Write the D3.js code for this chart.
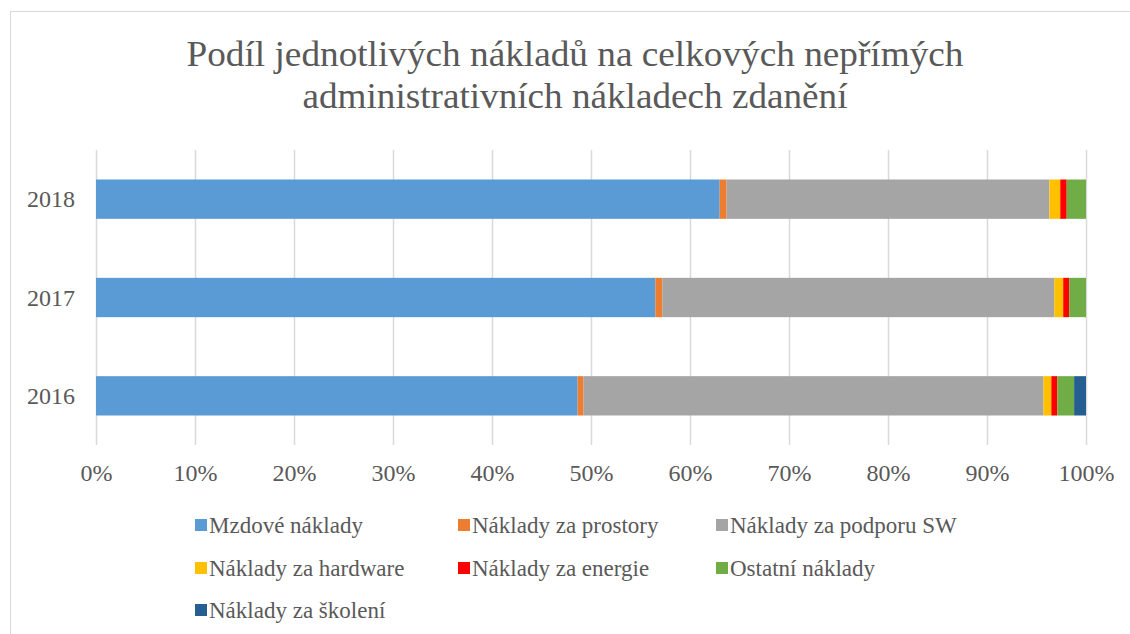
<!DOCTYPE html>
<html><head><meta charset="utf-8">
<script src="https://cdn.jsdelivr.net/npm/d3@7"></script>
<style>
html,body{margin:0;padding:0;background:#fff;}
svg text{fill:#595959;}
</style></head>
<body><svg id="chart" width="1130" height="634"></svg>
<script>
const titleLines = ["Podíl jednotlivých nákladů na celkových nepřímých", "administrativních nákladech zdanění"];
const years = ["2018", "2017", "2016"];
const seriesNames = ["Mzdové náklady", "Náklady za prostory", "Náklady za podporu SW", "Náklady za hardware", "Náklady za energie", "Ostatní náklady", "Náklady za školení"];
const seriesColors = ["#5B9BD5", "#ED7D31", "#A5A5A5", "#FFC000", "#FF0000", "#70AD47", "#255E91"];
// values in %, per year (order matches years)
const mzdove   = [63.0, 56.5, 48.65];
const prostory = [0.7, 0.7, 0.6];
const podporaSW= [32.6, 39.6, 46.45];
const hardware = [1.1, 0.9, 0.8];
const energie  = [0.65, 0.6, 0.6];
const ostatni  = [1.95, 1.7, 1.7];
const skoleni  = [0, 0, 1.2];
const tickValues = [0, 0.1, 0.2, 0.3, 0.4, 0.5, 0.6, 0.7, 0.8, 0.9, 1.0];

// pick an installed serif font
function pickFont(cands) {
  const c = document.createElement("canvas").getContext("2d");
  const sample = "Podíl jednotlivých nákladů 0123456789%";
  for (const base of ["monospace", "sans-serif"]) {
    c.font = "36px " + base;
    const w0 = c.measureText(sample).width;
    for (const f of cands) {
      c.font = `36px "${f}", ${base}`;
      if (Math.abs(c.measureText(sample).width - w0) > 0.5) return `"${f}"`;
    }
  }
  return "serif";
}
const FONT = pickFont(["Liberation Serif", "Tinos", "Times New Roman", "Times", "DejaVu Serif", "Noto Serif", "FreeSerif"]) + ", serif";

const seriesValues = [mzdove, prostory, podporaSW, hardware, energie, ostatni, skoleni];
const rows = years.map((yr, i) => {
  const r = {year: yr};
  seriesNames.forEach((s, j) => r[s] = seriesValues[j][i]);
  return r;
});

const svg = d3.select("#chart").style("font-family", FONT);
// chart border
svg.append("rect").attr("x", 10.5).attr("y", 11.5).attr("width", 1200).attr("height", 700)
  .attr("fill", "none").attr("stroke", "#d9d9d9").attr("stroke-width", 1);

// title
const titleW = [777, 545];
svg.append("g").selectAll("text").data(titleLines).join("text")
  .attr("x", 575).attr("y", (d, i) => 66 + i * 42)
  .attr("text-anchor", "middle").attr("font-size", 36)
  .style("font-family", FONT)
  .text(d => d)
  .attr("textLength", (d, i) => titleW[i]).attr("lengthAdjust", "spacingAndGlyphs");

const pLeft = 96, pRight = 1086, pTop = 150, pBottom = 445;
const x = d3.scaleLinear().domain([0, 1]).range([pLeft, pRight]);
const y = d3.scaleBand().domain(years).range([pTop, pBottom]).paddingInner(0.6).paddingOuter(0.3);

// gridlines
svg.append("g").selectAll("line").data(tickValues).join("line")
  .attr("x1", d => Math.round(x(d)) + 0.5).attr("x2", d => Math.round(x(d)) + 0.5)
  .attr("y1", pTop).attr("y2", pBottom)
  .attr("stroke", "#d9d9d9").attr("stroke-width", 1.5);

const stack = d3.stack().keys(seriesNames).offset(d3.stackOffsetExpand);
const stacked = stack(rows);

svg.append("g").selectAll("g").data(stacked).join("g")
  .attr("fill", (d, i) => seriesColors[i])
  .selectAll("rect").data(d => d).join("rect")
  .attr("x", d => x(d[0])).attr("width", d => Math.max(0, x(d[1]) - x(d[0])))
  .attr("y", d => y(d.data.year)).attr("height", y.bandwidth());

// x axis labels
const xAxis = d3.axisBottom(x).tickValues(tickValues).tickFormat(d3.format(".0%")).tickSize(0).tickPadding(0);
const gx = svg.append("g").attr("transform", `translate(0,${pBottom})`).call(xAxis);
gx.select(".domain").remove();
gx.attr("font-family", null);
gx.selectAll("text").attr("font-size", 24).style("font-family", FONT).attr("fill", "#595959").attr("dy", null).attr("y", 36);

// y axis labels
const yAxis = d3.axisLeft(y).tickSize(0).tickPadding(21);
const gy = svg.append("g").attr("transform", `translate(${pLeft},0)`).call(yAxis);
gy.select(".domain").remove();
gy.attr("font-family", null);
gy.selectAll("text").attr("font-size", 24).style("font-family", FONT).attr("fill", "#595959").attr("dy", "0.34em");

// legend
const colX = [195, 458, 716];
const rowY = [525, 568, 610];
const leg = svg.append("g").selectAll("g").data(seriesNames).join("g")
  .attr("transform", (d, i) => `translate(${colX[i % 3]},${rowY[Math.floor(i / 3)]})`);
leg.append("rect").attr("x", 0).attr("y", -6).attr("width", 12).attr("height", 12)
  .attr("fill", (d, i) => seriesColors[i]);
leg.append("text").attr("x", 14).attr("y", 0).attr("dy", "0.34em").attr("font-size", 23)
  .style("font-family", FONT).text(d => d);
</script></body></html>
